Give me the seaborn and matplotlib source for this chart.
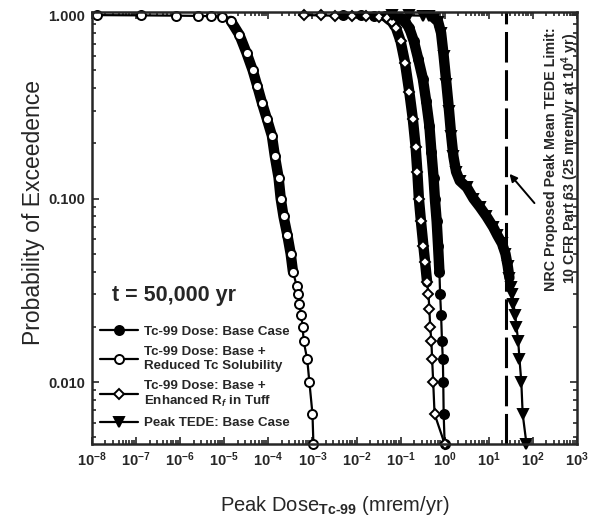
import numpy as np
import pandas as pd
import matplotlib.pyplot as plt
import seaborn as sns

# Values (dose in mrem/yr, probability of exceedance)
base_dose = [5.0e-3, 0.0126, 0.025, 0.045, 0.071, 0.10, 0.126, 0.158, 0.20, 0.25, 0.32, 0.38, 0.45,
             0.50, 0.56, 0.60, 0.66, 0.71, 0.76, 0.79, 0.83, 0.87, 0.91, 0.93, 0.95, 1.0]
base_prob = [1.0, 0.9967, 0.9933, 0.99, 0.98, 0.96, 0.92, 0.85, 0.72, 0.58, 0.45, 0.34, 0.25,
             0.18, 0.13, 0.10, 0.075, 0.055, 0.04, 0.03, 0.0233, 0.0167, 0.0133, 0.01, 0.0067, 0.0046]

sol_dose = [1.3e-8, 1.3e-7, 7.9e-7, 2.5e-6, 5.0e-6, 8.9e-6, 1.4e-5, 2.2e-5, 3.2e-5, 4.4e-5, 5.6e-5,
            7.2e-5, 9.3e-5, 1.2e-4, 1.4e-4, 1.7e-4, 1.9e-4, 2.2e-4, 2.7e-4, 3.2e-4, 3.6e-4, 4.4e-4,
            4.7e-4, 5.0e-4, 5.5e-4, 6.0e-4, 6.3e-4, 7.6e-4, 8.5e-4, 1.0e-3, 1.05e-3]
sol_prob = [1.0, 0.9967, 0.9933, 0.99, 0.9867, 0.98, 0.93, 0.78, 0.62, 0.5, 0.41,
            0.33, 0.27, 0.22, 0.17, 0.13, 0.10, 0.08, 0.063, 0.05, 0.04, 0.0333,
            0.03, 0.0267, 0.0233, 0.02, 0.0167, 0.0133, 0.01, 0.0067, 0.0046]

rf_dose = [6.3e-4, 1.6e-3, 3.2e-3, 7.9e-3, 0.016, 0.032, 0.050, 0.063, 0.079, 0.10, 0.126, 0.158,
           0.19, 0.22, 0.24, 0.26, 0.29, 0.33, 0.36, 0.40, 0.43, 0.45, 0.47, 0.50, 0.52, 0.55, 0.59, 1.0]
rf_prob = [1.0, 0.9967, 0.9933, 0.99, 0.9867, 0.98, 0.96, 0.92, 0.85, 0.72, 0.55, 0.38,
           0.27, 0.19, 0.14, 0.10, 0.075, 0.055, 0.045, 0.035, 0.03, 0.025, 0.02, 0.0167, 0.0133, 0.01, 0.0067, 0.0046]

tede_dose = [0.063, 0.158, 0.32, 0.45, 0.56, 0.71, 0.83, 0.95, 1.1, 1.26, 1.41, 1.58, 1.82, 2.2, 3.2,
             4.5, 6.3, 8.9, 12.6, 15.8, 20, 24, 27, 29.5, 31.6, 33.9, 36.3, 39.8, 42.7, 46.8, 50, 55, 59, 72]
tede_prob = [1.0, 0.9967, 0.9933, 0.987, 0.97, 0.92, 0.80, 0.60, 0.42, 0.30, 0.22, 0.17, 0.14, 0.125, 0.115,
             0.10, 0.09, 0.08, 0.07, 0.063, 0.057, 0.05, 0.043, 0.037, 0.033, 0.03, 0.0267, 0.0233, 0.02,
             0.0167, 0.0133, 0.01, 0.0067, 0.0046]

limit_dose = 25  # NRC proposed limit, mrem/yr

labels = ['Tc-99 Dose: Base Case',
          'Tc-99 Dose: Base +\nReduced Tc Solubility',
          'Tc-99 Dose: Base +\nEnhanced R$_f$ in Tuff',
          'Peak TEDE: Base Case']

sns.set_style('ticks')
plt.rcParams['font.family'] = ['Liberation Sans', 'DejaVu Sans']
plt.rcParams['mathtext.fontset'] = 'custom'
plt.rcParams['mathtext.rm'] = 'Liberation Sans:bold'
plt.rcParams['mathtext.bf'] = 'Liberation Sans:bold'
plt.rcParams['mathtext.it'] = 'Liberation Sans:bold:italic'

fig, ax = plt.subplots(figsize=(5.91, 5.21), dpi=100)
fig.subplots_adjust(left=0.156, right=0.976, top=0.977, bottom=0.148)

curves = [
    (base_dose, base_prob, 'o', 'black'),
    (sol_dose, sol_prob, 'o', 'white'),
    (rf_dose, rf_prob, 'D', 'white'),
    (tede_dose, tede_prob, 'v', 'black'),
]

# dense part of each CDF drawn as a thick band (overlapping markers in the original)
for dose, prob, mk, fc in curves:
    df = pd.DataFrame({'dose': dose, 'prob': prob})
    dense = df[(df['prob'] <= 0.97) & (df['prob'] >= 0.035)]
    sns.lineplot(data=dense, x='dose', y='prob', ax=ax, color='black', lw=7.5,
                 sort=False, estimator=None, legend=False)

for (dose, prob, mk, fc), lab in zip(curves, labels):
    df = pd.DataFrame({'dose': dose, 'prob': prob})
    ms = 5.5 if mk == 'D' else 6.5
    sns.lineplot(data=df, x='dose', y='prob', ax=ax, color='black', lw=1.6,
                 marker=mk, markersize=ms, markerfacecolor=fc, markeredgecolor='black',
                 markeredgewidth=1.4, sort=False, estimator=None, label=lab, clip_on=False)

ax.axvline(limit_dose, color='black', lw=2.2, ls=(0, (10, 2.5)))

ax.set_xscale('log')
ax.set_yscale('log')
ax.set_xlim(1e-8, 1e3)
ax.set_ylim(0.0046, 1.04)

xt = [10.0 ** e for e in range(-8, 4)]
ax.set_xticks(xt)
ax.set_xticklabels([f'$\\mathbf{{10^{{{e}}}}}$' for e in range(-8, 4)])
ax.set_yticks([0.01, 0.1, 1.0])
ax.set_yticklabels(['0.010', '0.100', '1.000'], fontweight='bold')
ax.xaxis.set_minor_locator(plt.matplotlib.ticker.LogLocator(base=10, subs=np.arange(2, 10), numticks=100))
ax.yaxis.set_minor_locator(plt.matplotlib.ticker.LogLocator(base=10, subs=np.arange(2, 10), numticks=100))
ax.xaxis.set_minor_formatter(plt.NullFormatter())
ax.yaxis.set_minor_formatter(plt.NullFormatter())
ax.tick_params(which='both', direction='in', top=True, right=True, labelsize=10.5, width=1.2)
ax.tick_params(which='major', length=5, pad=5)
ax.tick_params(which='minor', length=3)
for s in ax.spines.values():
    s.set_linewidth(1.8)

ax.set_xlabel('Peak Dose$_{\\mathrm{Tc\\text{-}99}}$ (mrem/yr)', fontsize=14.5, labelpad=18)
ax.set_ylabel('Probability of Exceedence', fontsize=16.5)
ax.yaxis.set_label_coords(-0.097, 0.535)

ax.text(0.97, 0.66, 'NRC Proposed Peak Mean TEDE Limit:\n10 CFR Part 63 (25 mrem/yr at 10$^4$ yr)',
        transform=ax.transAxes, rotation=90, ha='center', va='center', fontsize=10.3,
        fontweight='bold', linespacing=1.1)
ax.annotate('', xy=(27, 0.14), xytext=(120, 0.092),
            arrowprops=dict(arrowstyle='-|>', color='black', lw=1.4, mutation_scale=11))

leg = ax.legend(title='  t = 50,000 yr', loc='lower left', bbox_to_anchor=(0.0, 0.015),
                frameon=False, handlelength=2.8, handletextpad=0.5, labelspacing=0.6,
                borderaxespad=0.2, alignment='left',
                prop={'weight': 'bold', 'size': 9.6},
                title_fontproperties={'weight': 'bold', 'size': 15.5})
leg._legend_box.sep = 14

fig.savefig('out.png', dpi=100)
